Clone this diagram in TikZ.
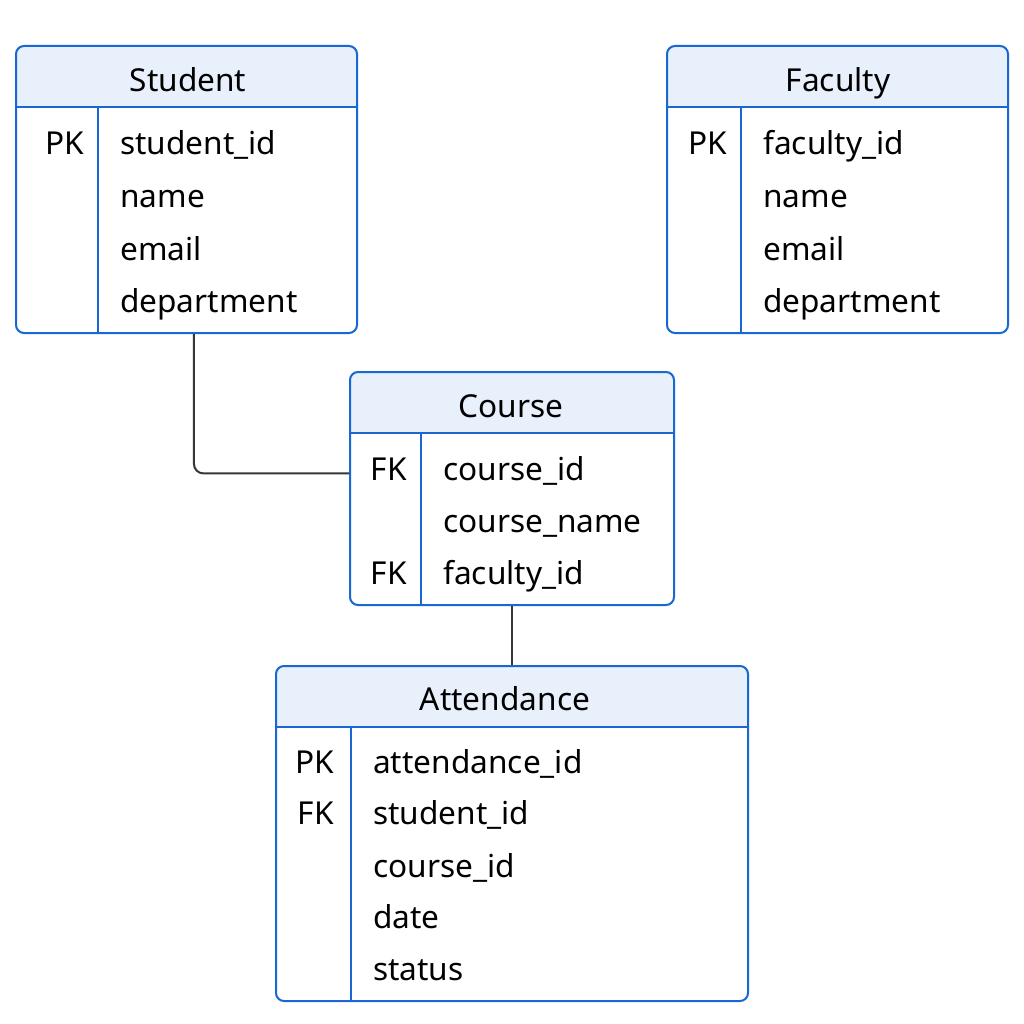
\documentclass[tikz,border=0pt]{standalone}
\usepackage{fontspec}
\setmainfont{Noto Sans}
\usetikzlibrary{fit}
\definecolor{erblue}{RGB}{25,103,210}
\definecolor{erhead}{RGB}{231,240,251}
\definecolor{erline}{RGB}{55,55,55}
\tikzset{
 tbl/.style={draw=erblue, line width=1.5pt, rounded corners=6pt, inner sep=0pt},
 sepline/.style={draw=erblue, line width=1.5pt},
 ttl/.style={font=\fontsize{23.7}{28}\selectfont, anchor=base, inner sep=0pt},
 fld/.style={font=\fontsize{23.7}{28}\selectfont, anchor=base west, inner sep=0pt},
 keyc/.style={font=\fontsize{23.7}{28}\selectfont, anchor=base east, inner sep=0pt},
 conn/.style={draw=erline, line width=1.5pt, rounded corners=7pt},
}
\newcommand\ertab[7]{%
 \begin{scope}
 \clip[rounded corners=6pt] (#2,#3) rectangle (#4,#5);
 \fill[erhead] (#2,#3) rectangle (#4,#6);
 \end{scope}
 \node[tbl, fit={(#2,#3) (#4,#5)}] (#1) {};
 \draw[sepline] (#2,#6) -- (#4,#6);
 \draw[sepline] (#7,#6) -- (#7,#5);
}
\begin{document}
\begin{tikzpicture}[x=0.75pt,y=-0.75pt]
\useasboundingbox[fill=white] (0,0) rectangle (1024,1024);

% Student
\ertab{student}{16}{46}{357}{333}{107}{98}
\node[ttl] (student-title) at (188,92) {Student};
\node[keyc] (student-k1) at (84,154) {PK};
\node[fld] (student-f1) at (120,154) {student\_id};
\node[fld] (student-f2) at (120,207) {name};
\node[fld] (student-f3) at (120,260) {email};
\node[fld] (student-f4) at (120,312) {department};

% Faculty
\ertab{faculty}{667}{46}{1008}{333}{107}{741}
\node[ttl] (faculty-title) at (838,92) {Faculty};
\node[keyc] (faculty-k1) at (727,154) {PK};
\node[fld] (faculty-f1) at (763,154) {faculty\_id};
\node[fld] (faculty-f2) at (763,207) {name};
\node[fld] (faculty-f3) at (763,260) {email};
\node[fld] (faculty-f4) at (763,312) {department};

% Course
\ertab{course}{350}{372}{674}{605}{433}{421}
\node[ttl] (course-title) at (511,417) {Course};
\node[keyc] (course-k1) at (407,480) {FK};
\node[keyc] (course-k3) at (407,584) {FK};
\node[fld] (course-f1) at (443,480) {course\_id};
\node[fld] (course-f2) at (443,532) {course\_name};
\node[fld] (course-f3) at (443,584) {faculty\_id};

% Attendance
\ertab{attendance}{276}{666}{748}{1001}{727}{351}
\node[ttl] (attendance-title) at (505,710) {Attendance};
\node[keyc] (attendance-k1) at (334,773) {PK};
\node[keyc] (attendance-k2) at (334,824) {FK};
\node[fld] (attendance-f1) at (373,773) {attendance\_id};
\node[fld] (attendance-f2) at (373,824) {student\_id};
\node[fld] (attendance-f3) at (373,877) {course\_id};
\node[fld] (attendance-f4) at (373,928) {date};
\node[fld] (attendance-f5) at (373,980) {status};

% connectors
\draw[conn] ([xshift=5.6pt]student.south) |- ([yshift=-3.5pt]course.west |- course-k1);
\draw[conn] (course.south) -- (course.south |- attendance.north);
\end{tikzpicture}
\end{document}
